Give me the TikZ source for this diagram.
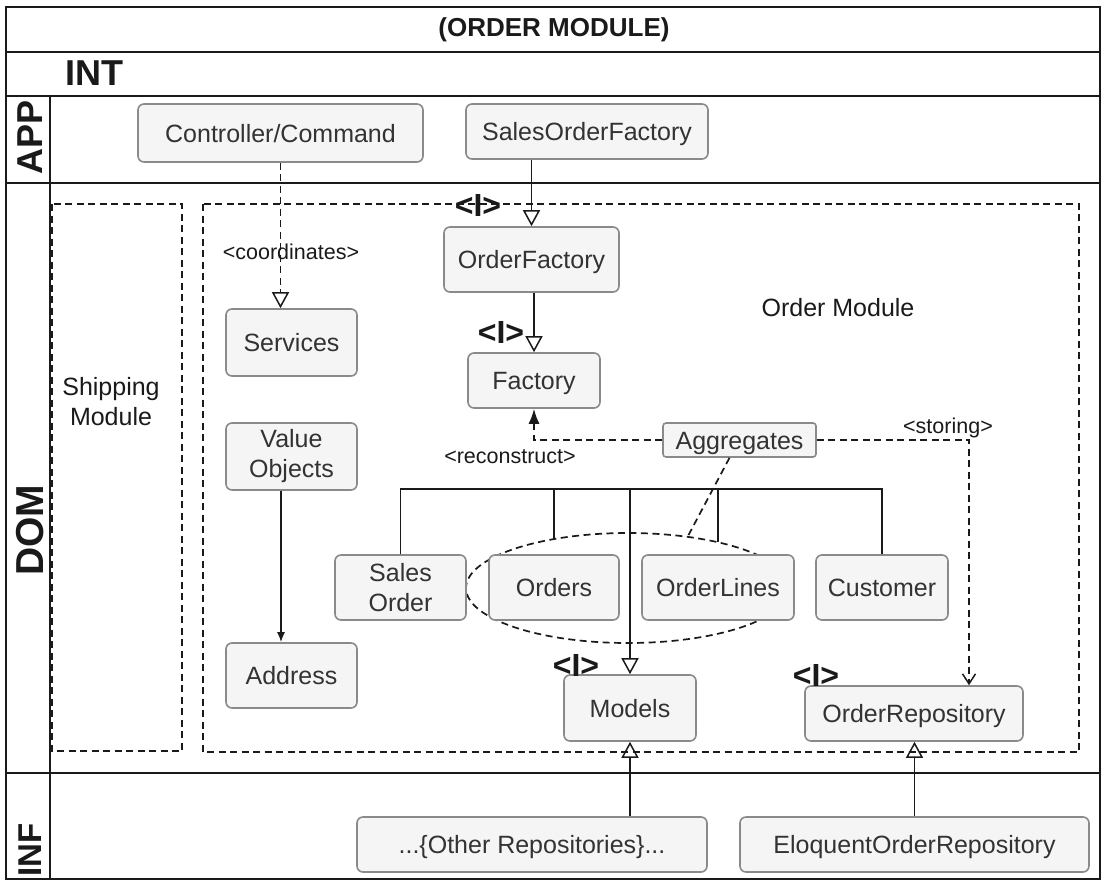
\documentclass[tikz,border=0pt]{standalone}
\usepackage{fontspec}
\setmainfont{Liberation Sans}
\usetikzlibrary{arrows.meta,shapes.geometric}
\definecolor{boxfill}{HTML}{F5F5F5}
\definecolor{boxdraw}{HTML}{8A8A8A}
\definecolor{txt}{HTML}{333333}
\definecolor{ink}{HTML}{1A1A1A}
\begin{document}
\begin{tikzpicture}[x=1pt,y=-1pt,
  box/.style={draw=boxdraw, fill=boxfill, rounded corners=6pt, line width=1.6pt, text=txt,
    font=\fontsize{25}{29}\selectfont, align=center, inner sep=0pt},
  onebox/.style={box, text height=18pt, text depth=0pt},
  frameline/.style={line width=2pt, draw=ink},
  dbox/.style={line width=1.9pt, draw=ink, dash pattern=on 7pt off 4.5pt},
  lane/.style={font=\bfseries\fontsize{36}{36}\selectfont, text=ink, inner sep=0pt},
  lbl/.style={font=\fontsize{21.5}{21.5}\selectfont, text=ink, inner sep=0pt},
  iface/.style={font=\bfseries\fontsize{32}{32}\selectfont, text=ink, inner sep=0pt},
  conn/.style={line width=1.6pt, draw=ink},
  dconn/.style={line width=1.7pt, draw=ink, dash pattern=on 7pt off 4.5pt},
  gen/.style={-{Triangle[open,length=16pt,width=17pt,line width=1.5pt]}},
]
\useasboundingbox (0,0) rectangle (1102,881);
\fill[white] (0,0) rectangle (1102,881);

% ---- frame ----
\draw[frameline] (6,7) rectangle (1100,879);
\draw[frameline] (6,52) -- (1100,52);
\draw[frameline] (6,96) -- (1100,96);
\draw[frameline] (6,183) -- (1100,183);
\draw[frameline] (6,773) -- (1100,773);
\draw[frameline] (50,96) -- (50,879);

\node[lane, font=\bfseries\fontsize{26}{26}\selectfont] (title) at (554,30) {(ORDER MODULE)};
\node[lane, anchor=west] (int) at (65,73) {INT};
\node[lane, rotate=90] (app) at (30,137) {APP};
\node[lane, rotate=90, font=\bfseries\fontsize{39}{39}\selectfont] (dom) at (30,530) {DOM};
\node[lane, rotate=90, font=\bfseries\fontsize{33}{33}\selectfont] (inf) at (30,850) {INF};

% ---- module boundaries ----
\draw[dbox] (52,204) rectangle (182,751);
\draw[dbox] (203,204) rectangle (1079,752);
\node[align=center, text=ink, font=\fontsize{25}{30}\selectfont, inner sep=0pt] (ship) at (111,402) {Shipping\\Module};
\node[text=ink, font=\fontsize{25}{30}\selectfont, inner sep=0pt] (omod) at (838,308) {Order Module};

% ---- aggregate group ellipse ----
\node[ellipse, dash pattern=on 7pt off 4.5pt, line width=1.7pt, draw=ink,
  minimum width=324pt, minimum height=110pt, inner sep=0pt] (grp) at (628,588) {};

% ---- boxes ----
\node[onebox, minimum width=285pt, minimum height=58pt] (ctrl) at (280.5,133) {Controller/Command};
\node[onebox, minimum width=242pt, minimum height=55pt] (sof) at (587,131.5) {SalesOrderFactory};
\node[onebox, minimum width=175pt, minimum height=65pt] (ofac) at (531.5,259.5) {OrderFactory};
\node[onebox, minimum width=132pt, minimum height=55pt] (fac) at (534,380.5) {Factory};
\node[onebox, minimum width=131pt, minimum height=67pt] (serv) at (291.5,342.5) {Services};
\node[box, minimum width=131pt, minimum height=67pt, font=\fontsize{25}{30}\selectfont] (vo) at (291.5,456.5) {Value\\Objects};
\node[onebox, minimum width=131pt, minimum height=65pt] (addr) at (291.5,675.5) {Address};
\node[onebox, rounded corners=3pt, minimum width=153pt, minimum height=34pt] (agg) at (739.5,440) {Aggregates};
\node[box, minimum width=131pt, minimum height=65pt, font=\fontsize{25}{30}\selectfont] (so) at (400.5,587.5) {Sales\\Order};
\node[onebox, minimum width=130pt, minimum height=65pt] (orders) at (554,587.5) {Orders};
\node[onebox, minimum width=152pt, minimum height=65pt] (ol) at (718,587.5) {OrderLines};
\node[onebox, minimum width=132pt, minimum height=65pt] (cust) at (882,587.5) {Customer};
\node[onebox, minimum width=132pt, minimum height=66pt] (models) at (630,708) {Models};
\node[onebox, minimum width=218pt, minimum height=55pt] (orepo) at (914,713.5) {OrderRepository};
\node[onebox, minimum width=350pt, minimum height=55pt] (other) at (532,844.5) {...\{Other Repositories\}...};
\node[onebox, minimum width=349pt, minimum height=55pt] (eor) at (914.5,844.5) {EloquentOrderRepository};

% ---- interface markers ----
\node[iface] (i1) at (478,205) {<I>};
\node[iface] (i2) at (501,332) {<I>};
\node[iface] (i3) at (576,665) {<I>};
\node[iface] (i4) at (816,675) {<I>};

% ---- connector labels ----
\node[lbl] (lcoord) at (291,252) {<coordinates>};
\node[lbl] (lrec) at (510,457) {<reconstruct>};
\node[lbl] (lstor) at (948,428) {<storing>};

% ---- connectors ----
\draw[dconn, gen] (ctrl.south) -- (ctrl.south |- serv.north);
\draw[conn, gen] (sof.south -| ofac.north) -- (ofac.north);
\draw[conn, gen] (ofac.south -| fac.north) -- (fac.north);
\draw[conn, -{Latex[length=10pt,width=8pt]}] ([xshift=-10.5pt]vo.south) -- ([xshift=-10.5pt]addr.north);
\draw[dconn, -{Latex[length=15pt,width=11pt]}] (agg.west) -| (fac.south);
\coordinate (storeend) at ([xshift=55pt]orepo.north);
\draw[dconn, -{Straight Barb[length=10pt,width=13pt,line width=1.5pt]}] (agg.east) -| (storeend);

% bus to aggregate members
\coordinate (busL) at (400.5,489);
\coordinate (busR) at (882,489);
\coordinate (eOrders) at (554,539);
\coordinate (eLines) at (718,542);
\coordinate (eAgg) at (688,536);
\draw[conn] (so.north) -- (busL) -- (busR) -- (cust.north);
\draw[conn] (eOrders |- busL) -- (eOrders);
\draw[conn] (eLines |- busL) -- (eLines);
\draw[conn, gen] (models.north |- busL) -- (models.north);
\draw[dconn] ([xshift=-10pt]agg.south) -- (eAgg);

\draw[conn, gen] (models.south |- other.north) -- (models.south);
\draw[conn, gen] (eor.north) -- (eor.north |- orepo.south);
\end{tikzpicture}
\end{document}
